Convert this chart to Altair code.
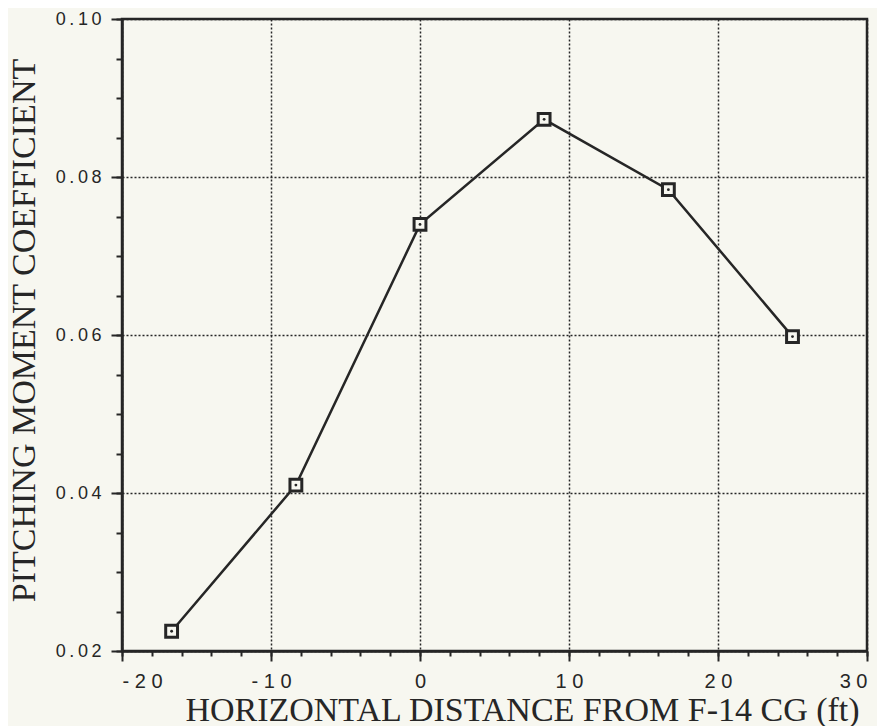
import altair as alt
import pandas as pd

# ---- data ----
x_values = [-16.67, -8.33, 0.0, 8.33, 16.67, 25.0]
cm_values = [0.0225, 0.0410, 0.0740, 0.0873, 0.0784, 0.0598]

x_major = [-20, -10, 0, 10, 20, 30]
x_tick_labels = ["- 2 0", "- 1 0", "0", "1 0", "2 0", "3 0"]
x_minor = [-20, -18, -16, -14, -12, -10, -8, -6, -4, -2, 0, 2, 4, 6, 8, 10,
           12, 14, 16, 18, 20, 22, 24, 26, 28, 30]
y_major = [0.02, 0.04, 0.06, 0.08, 0.10]
y_tick_labels = ["0\u2009.\u20090\u20092", "0\u2009.\u20090\u20094", "0\u2009.\u20090\u20096",
                 "0\u2009.\u20090\u20098", "0\u2009.\u20091\u20090"]
y_minor = [0.020, 0.025, 0.030, 0.035, 0.040, 0.045, 0.050, 0.055, 0.060,
           0.065, 0.070, 0.075, 0.080, 0.085, 0.090, 0.095, 0.100]

x_title = "HORIZONTAL DISTANCE FROM F-14 CG (ft)"
y_title = "PITCHING MOMENT COEFFICIENT"

df = pd.DataFrame({"x": x_values, "cm": cm_values})

BG = "#f7f7f0"
INK = "#262626"

x_label_expr = " : ".join(
    f"datum.value == {v} ? '{l}'" for v, l in zip(x_major, x_tick_labels)
) + " : datum.label"
y_label_expr = " : ".join(
    f"abs(datum.value - {v}) < 0.0001 ? '{l}'" for v, l in zip(y_major, y_tick_labels)
) + " : datum.label"

xs = alt.Scale(domain=[-20, 30], nice=False, zero=False)
ys = alt.Scale(domain=[0.02, 0.10], nice=False, zero=False)

x_axis_major = alt.Axis(
    orient="bottom",
    values=x_major, labelExpr=x_label_expr, title=x_title,
    grid=True, gridDash=[2, 2], gridColor=INK, gridWidth=1.5,
    tickSize=10, tickWidth=2, tickColor=INK,
    domainColor=INK, domainWidth=2.5,
    labelFont="Liberation Sans", labelFontSize=20, labelColor=INK, labelPadding=10,
    titleFont="Liberation Serif", titleFontSize=34, titleFontWeight="normal",
    titleColor=INK, titleX=400, titleY=69, titleAlign="center",
    titleBaseline="alphabetic",
)
y_axis_major = alt.Axis(
    orient="left",
    values=y_major, labelExpr=y_label_expr, title=y_title,
    grid=True, gridDash=[2, 2], gridColor=INK, gridWidth=1.5,
    tickSize=11, tickWidth=2, tickColor=INK,
    domainColor=INK, domainWidth=2.5,
    labelFont="Liberation Sans", labelFontSize=18, labelColor=INK, labelPadding=10,
    titleFont="Liberation Serif", titleFontSize=34, titleFontWeight="normal",
    titleColor=INK, titleX=-88, titleY=311, titleAlign="center",
    titleBaseline="alphabetic",
)
x_axis_minor = alt.Axis(
    orient="bottom",
    values=x_minor, labels=False, title=None, grid=False, domain=False,
    tickSize=5, tickWidth=2, tickColor=INK,
)
y_axis_minor = alt.Axis(
    orient="left",
    values=y_minor, labels=False, title=None, grid=False, domain=False,
    tickSize=6, tickWidth=2, tickColor=INK,
)

base = alt.Chart(df)

line = base.mark_line(color=INK, strokeWidth=2.5).encode(
    x=alt.X("x:Q", scale=xs, axis=x_axis_major),
    y=alt.Y("cm:Q", scale=ys, axis=y_axis_major),
)
squares = base.mark_square(size=140, filled=True, fill=BG, stroke=INK,
                           strokeWidth=3, opacity=1).encode(
    x=alt.X("x:Q", scale=xs, axis=x_axis_minor),
    y=alt.Y("cm:Q", scale=ys, axis=y_axis_minor),
)
dots = base.mark_circle(size=8, color=INK, opacity=1).encode(
    x=alt.X("x:Q", scale=xs, axis=None),
    y=alt.Y("cm:Q", scale=ys, axis=None),
)

chart = alt.layer(line, squares, dots).resolve_axis(
    x="independent", y="independent"
).properties(
    width=745, height=632,
    autosize=alt.AutoSizeParams(type="none"),
    padding={"left": 114, "top": 11, "right": 10, "bottom": 75},
    background=BG,
).configure_view(stroke=INK, strokeWidth=2.5)

chart.save("out.html", embed_options={"renderer": "svg", "actions": False})
